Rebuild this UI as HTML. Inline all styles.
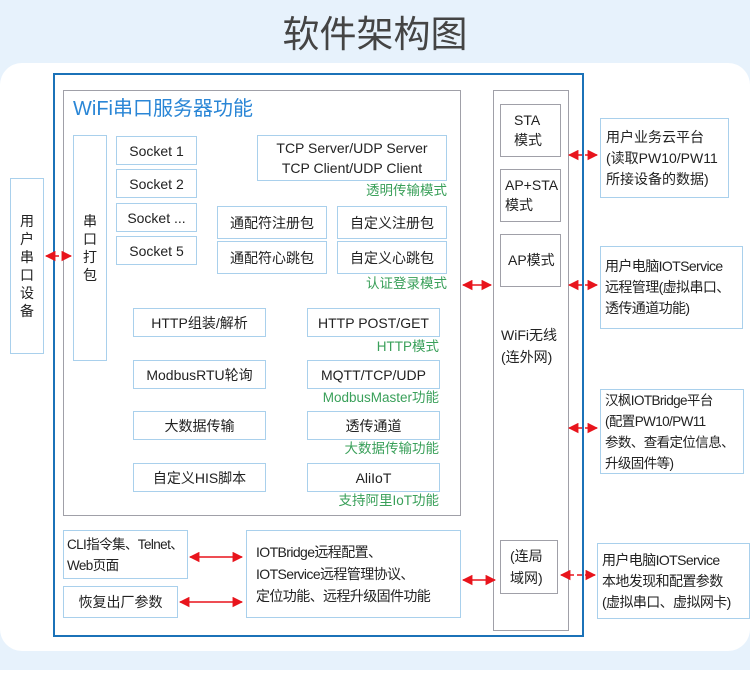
<!DOCTYPE html>
<html><head><meta charset="utf-8"><style>
*{margin:0;padding:0;box-sizing:border-box}
body{width:750px;height:688px;background:#e7f2fc;position:relative;overflow:hidden;font-family:"Liberation Sans","Noto Sans CJK SC",sans-serif;color:#222}
div{position:absolute;white-space:nowrap}
.b{border:1px solid #a9d0ec;background:#fff;font-size:14px;line-height:20px;display:flex;align-items:center;justify-content:center;text-align:center}
.g{border:1px solid #a0a0a8;background:#fff}
.gl{color:#3aa05a;font-size:13.5px;text-align:right;line-height:16px}
.l{justify-content:flex-start;text-align:left;padding-left:5px}
.n{letter-spacing:-0.6px}
</style></head><body>
<div style="left:0;top:13px;width:750px;text-align:center;font-size:37px;line-height:44px;color:#444">软件架构图</div>
<div style="left:0;top:63px;width:750px;height:588px;background:#fff;border-radius:22px"></div>
<div style="left:0;top:670px;width:750px;height:18px;background:#fff"></div>
<div style="left:53px;top:73px;width:531px;height:564px;border:2px solid #1b72b8"></div>
<div class="g" style="left:63px;top:90px;width:398px;height:426px"></div>
<div style="left:73px;top:96px;font-size:20px;color:#2a86d6;line-height:26px">WiFi串口服务器功能</div>
<div class="b" style="left:10px;top:178px;width:34px;height:176px;line-height:18px;white-space:normal">用<br>户<br>串<br>口<br>设<br>备</div>
<div class="b" style="left:73px;top:135px;width:34px;height:226px;line-height:18px;white-space:normal">串<br>口<br>打<br>包</div>
<div class="b" style="left:116px;top:136px;width:81px;height:29px">Socket 1</div>
<div class="b" style="left:116px;top:169px;width:81px;height:29px">Socket 2</div>
<div class="b" style="left:116px;top:203px;width:81px;height:29px">Socket ...</div>
<div class="b" style="left:116px;top:236px;width:81px;height:29px">Socket 5</div>
<div class="b" style="left:257px;top:135px;width:190px;height:46px">TCP Server/UDP Server<br>TCP Client/UDP Client</div>
<div class="gl" style="left:300px;top:183px;width:147px">透明传输模式</div>
<div class="b" style="left:217px;top:206px;width:110px;height:33px">通配符注册包</div>
<div class="b" style="left:337px;top:206px;width:110px;height:33px">自定义注册包</div>
<div class="b" style="left:217px;top:241px;width:110px;height:33px">通配符心跳包</div>
<div class="b" style="left:337px;top:241px;width:110px;height:33px">自定义心跳包</div>
<div class="gl" style="left:300px;top:276px;width:147px">认证登录模式</div>
<div class="b" style="left:133px;top:308px;width:133px;height:29px">HTTP组装/解析</div>
<div class="b" style="left:307px;top:308px;width:133px;height:29px">HTTP POST/GET</div>
<div class="gl" style="left:290px;top:339px;width:149px">HTTP模式</div>
<div class="b" style="left:133px;top:360px;width:133px;height:29px">ModbusRTU轮询</div>
<div class="b" style="left:307px;top:360px;width:133px;height:29px">MQTT/TCP/UDP</div>
<div class="gl" style="left:290px;top:390px;width:149px">ModbusMaster功能</div>
<div class="b" style="left:133px;top:411px;width:133px;height:29px">大数据传输</div>
<div class="b" style="left:307px;top:411px;width:133px;height:29px">透传通道</div>
<div class="gl" style="left:290px;top:441px;width:149px">大数据传输功能</div>
<div class="b" style="left:133px;top:463px;width:133px;height:29px">自定义HIS脚本</div>
<div class="b" style="left:307px;top:463px;width:133px;height:29px">AliIoT</div>
<div class="gl" style="left:290px;top:493px;width:149px">支持阿里IoT功能</div>
<div class="g" style="left:493px;top:90px;width:76px;height:541px"></div>
<div class="g" style="left:500px;top:104px;width:61px;height:53px;font-size:14px;line-height:20px;padding:5px 0 0 13px">STA<br>模式</div>
<div class="g" style="left:500px;top:169px;width:61px;height:53px;font-size:14px;line-height:20px;padding:5px 0 0 4px">AP+STA<br>模式</div>
<div class="g" style="left:500px;top:234px;width:61px;height:53px;font-size:14px;line-height:20px;padding:15px 0 0 7px">AP模式</div>
<div style="left:501px;top:324px;font-size:14px;line-height:22px">WiFi无线<br>(连外网)</div>
<div class="g" style="left:500px;top:540px;width:58px;height:54px;font-size:14px;line-height:22px;padding:4px 0 0 9px">(连局<br>域网)</div>
<div class="b l" style="left:600px;top:118px;width:129px;height:80px;line-height:21px">用户业务云平台<br>(读取PW10/PW11<br>所接设备的数据)</div>
<div class="b l n" style="left:600px;top:246px;width:143px;height:83px;line-height:21px;padding-left:4px">用户电脑IOTService<br>远程管理(虚拟串口、<br>透传通道功能)</div>
<div class="b l n" style="left:600px;top:389px;width:144px;height:85px;line-height:21px;padding-left:4px;font-size:13.5px">汉枫IOTBridge平台<br>(配置PW10/PW11<br>参数、查看定位信息、<br>升级固件等)</div>
<div class="b l n" style="left:597px;top:543px;width:153px;height:76px;line-height:21px;padding-left:4px">用户电脑IOTService<br>本地发现和配置参数<br>(虚拟串口、虚拟网卡)</div>
<div class="b l n" style="left:63px;top:530px;width:125px;height:49px;line-height:21px;padding-left:3px;font-size:13.5px">CLI指令集、Telnet、<br>Web页面</div>
<div class="b" style="left:63px;top:586px;width:115px;height:32px">恢复出厂参数</div>
<div class="b l n" style="left:246px;top:530px;width:215px;height:88px;line-height:22px;padding-left:9px">IOTBridge远程配置、<br>IOTService远程管理协议、<br>定位功能、远程升级固件功能</div>
<svg width="750" height="688" style="position:absolute;left:0;top:0">
<defs>
<marker id="a" viewBox="0 0 10 10" refX="9" refY="5" markerWidth="7" markerHeight="7" orient="auto-start-reverse"><path d="M0,0L10,5L0,10z" fill="#e8141c"/></marker>
</defs>
<g stroke="#e8141c" stroke-width="1.5" fill="none">
<line x1="46" y1="256" x2="71" y2="256" stroke-dasharray="5,3" marker-start="url(#a)" marker-end="url(#a)"/>
<line x1="463" y1="285" x2="491" y2="285" marker-start="url(#a)" marker-end="url(#a)"/>
<line x1="569" y1="155" x2="597" y2="155" stroke-dasharray="5,3" marker-start="url(#a)" marker-end="url(#a)"/>
<line x1="569" y1="285" x2="597" y2="285" stroke-dasharray="5,3" marker-start="url(#a)" marker-end="url(#a)"/>
<line x1="569" y1="428" x2="597" y2="428" stroke-dasharray="5,3" marker-start="url(#a)" marker-end="url(#a)"/>
<line x1="561" y1="575" x2="595" y2="575" stroke-dasharray="5,3" marker-start="url(#a)" marker-end="url(#a)"/>
<line x1="190" y1="557" x2="242" y2="557" marker-start="url(#a)" marker-end="url(#a)"/>
<line x1="180" y1="602" x2="242" y2="602" marker-start="url(#a)" marker-end="url(#a)"/>
<line x1="463" y1="580" x2="495" y2="580" marker-start="url(#a)" marker-end="url(#a)"/>
</g></svg>
</body></html>
